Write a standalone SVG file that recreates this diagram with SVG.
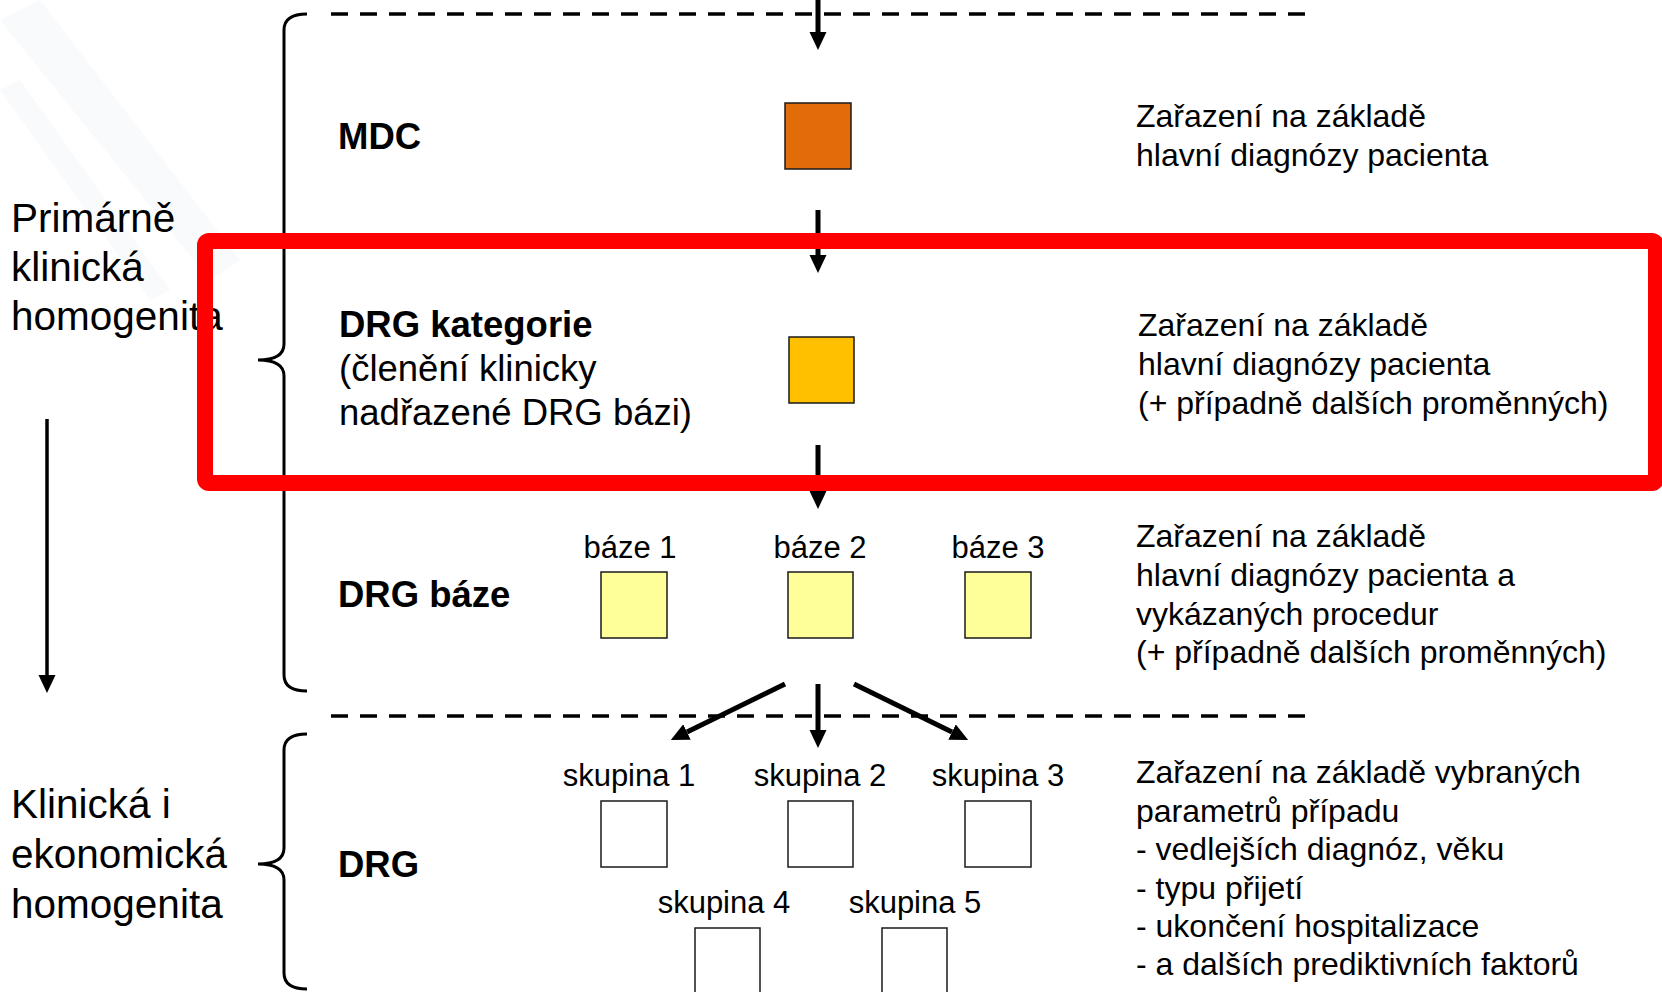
<svg xmlns="http://www.w3.org/2000/svg" width="1662" height="992" viewBox="0 0 1662 992">
<defs>
<style>
text{font-family:"Liberation Sans",Arial,sans-serif;fill:#000}
.big{font-size:40.5px}
.hd{font-size:36.5px;font-weight:bold}
.sub{font-size:36.5px}
.desc{font-size:32px}
.lbl{font-size:31px;text-anchor:middle}
.box{stroke:#1a1a1a;stroke-width:1.5}
.dash{stroke:#000;stroke-width:3.5;stroke-dasharray:17 12;fill:none}
.brace{stroke:#000;stroke-width:3;fill:none}
.arr{stroke:#000;stroke-width:5;fill:none;marker-end:url(#ah)}
.arrt{stroke:#000;stroke-width:3.5;fill:none;marker-end:url(#ah)}
</style>
<marker id="ah" markerUnits="userSpaceOnUse" markerWidth="20" markerHeight="18" refX="0" refY="8.5" orient="auto">
<path d="M0,0 L18,8.5 L0,17 z" fill="#000"/>
</marker>
</defs>
<rect width="1662" height="992" fill="#ffffff"/>
<g id="background" fill="#f9fafb">
<path d="M0,20 L40,0 L240,260 L210,280 z"/>
<path d="M0,90 L20,80 L170,290 L150,300 z"/>
</g>

<g id="dividers">
<line class="dash" x1="331" y1="14" x2="1306" y2="14"/>
<line class="dash" x1="331" y1="716" x2="1306" y2="716"/>
</g>

<g id="brace-primary">
<path class="brace" d="M307,14 Q284,14 284,30 L284,344 Q284,360 258,360 Q284,360 284,376 L284,675 Q284,691 307,691"/>
</g>
<g id="brace-economic">
<path class="brace" d="M307,734 Q284,734 284,750 L284,848 Q284,864 258,864 Q284,864 284,880 L284,973 Q284,989 307,989"/>
</g>

<g id="label-primary">
<text class="big" x="11" y="232">Primárně</text>
<text class="big" x="11" y="281">klinická</text>
<text class="big" x="11" y="330">homogenita</text>
</g>
<g id="label-economic">
<text class="big" x="11" y="818">Klinická i</text>
<text class="big" x="11" y="868">ekonomická</text>
<text class="big" x="11" y="918">homogenita</text>
</g>

<g id="connectors">
<line class="arr" x1="818" y1="0" x2="818" y2="32"/>
<line class="arr" x1="818" y1="210" x2="818" y2="255"/>
<line class="arr" x1="818" y1="445" x2="818" y2="491"/>
<line class="arr" x1="818" y1="684" x2="818" y2="730"/>
<line class="arr" x1="785" y1="684" x2="687" y2="732"/>
<line class="arr" x1="854" y1="684" x2="952" y2="732"/>
<line class="arrt" x1="47" y1="419" x2="47" y2="675"/>
</g>

<g id="node-mdc">
<text class="hd" x="338" y="149">MDC</text>
<rect class="box" x="785" y="103" width="66" height="66" fill="#E36C0A"/>
<text class="desc" x="1136" y="127">Zařazení na základě</text>
<text class="desc" x="1136" y="166">hlavní diagnózy pacienta</text>
</g>

<g id="node-drg-kategorie">
<text class="hd" x="339" y="337">DRG kategorie</text>
<text class="sub" x="339" y="381">(členění klinicky</text>
<text class="sub" x="339" y="425">nadřazené DRG bázi)</text>
<rect class="box" x="789" y="337" width="65" height="66" fill="#FFC000"/>
<text class="desc" x="1138" y="336">Zařazení na základě</text>
<text class="desc" x="1138" y="375">hlavní diagnózy pacienta</text>
<text class="desc" x="1138" y="414">(+ případně dalších proměnných)</text>
</g>

<g id="node-drg-baze">
<text class="hd" x="338" y="607">DRG báze</text>
<text class="desc" x="1136" y="547">Zařazení na základě</text>
<text class="desc" x="1136" y="586">hlavní diagnózy pacienta a</text>
<text class="desc" x="1136" y="625">vykázaných procedur</text>
<text class="desc" x="1136" y="663">(+ případně dalších proměnných)</text>
</g>
<g id="baze-1">
<text class="lbl" x="630" y="558">báze 1</text>
<rect class="box" x="601" y="572" width="66" height="66" fill="#FFFF99"/>
</g>
<g id="baze-2">
<text class="lbl" x="820" y="558">báze 2</text>
<rect class="box" x="788" y="572" width="65" height="66" fill="#FFFF99"/>
</g>
<g id="baze-3">
<text class="lbl" x="998" y="558">báze 3</text>
<rect class="box" x="965" y="572" width="66" height="66" fill="#FFFF99"/>
</g>

<g id="node-drg">
<text class="hd" x="338" y="877">DRG</text>
<text class="desc" x="1136" y="783">Zařazení na základě vybraných</text>
<text class="desc" x="1136" y="822">parametrů případu</text>
<text class="desc" x="1136" y="860">- vedlejších diagnóz, věku</text>
<text class="desc" x="1136" y="899">- typu přijetí</text>
<text class="desc" x="1136" y="937">- ukončení hospitalizace</text>
<text class="desc" x="1136" y="975">- a dalších prediktivních faktorů</text>
</g>
<g id="skupina-1">
<text class="lbl" x="629" y="786">skupina 1</text>
<rect class="box" x="601" y="801" width="66" height="66" fill="#ffffff"/>
</g>
<g id="skupina-2">
<text class="lbl" x="820" y="786">skupina 2</text>
<rect class="box" x="788" y="801" width="65" height="66" fill="#ffffff"/>
</g>
<g id="skupina-3">
<text class="lbl" x="998" y="786">skupina 3</text>
<rect class="box" x="965" y="801" width="66" height="66" fill="#ffffff"/>
</g>
<g id="skupina-4">
<text class="lbl" x="724" y="913">skupina 4</text>
<rect class="box" x="695" y="928" width="65" height="70" fill="#ffffff"/>
</g>
<g id="skupina-5">
<text class="lbl" x="915" y="913">skupina 5</text>
<rect class="box" x="882" y="928" width="65" height="70" fill="#ffffff"/>
</g>

<g id="highlight">
<rect x="205" y="241" width="1451" height="242" rx="4" fill="none" stroke="#FF0000" stroke-width="16"/>
</g>
</svg>
